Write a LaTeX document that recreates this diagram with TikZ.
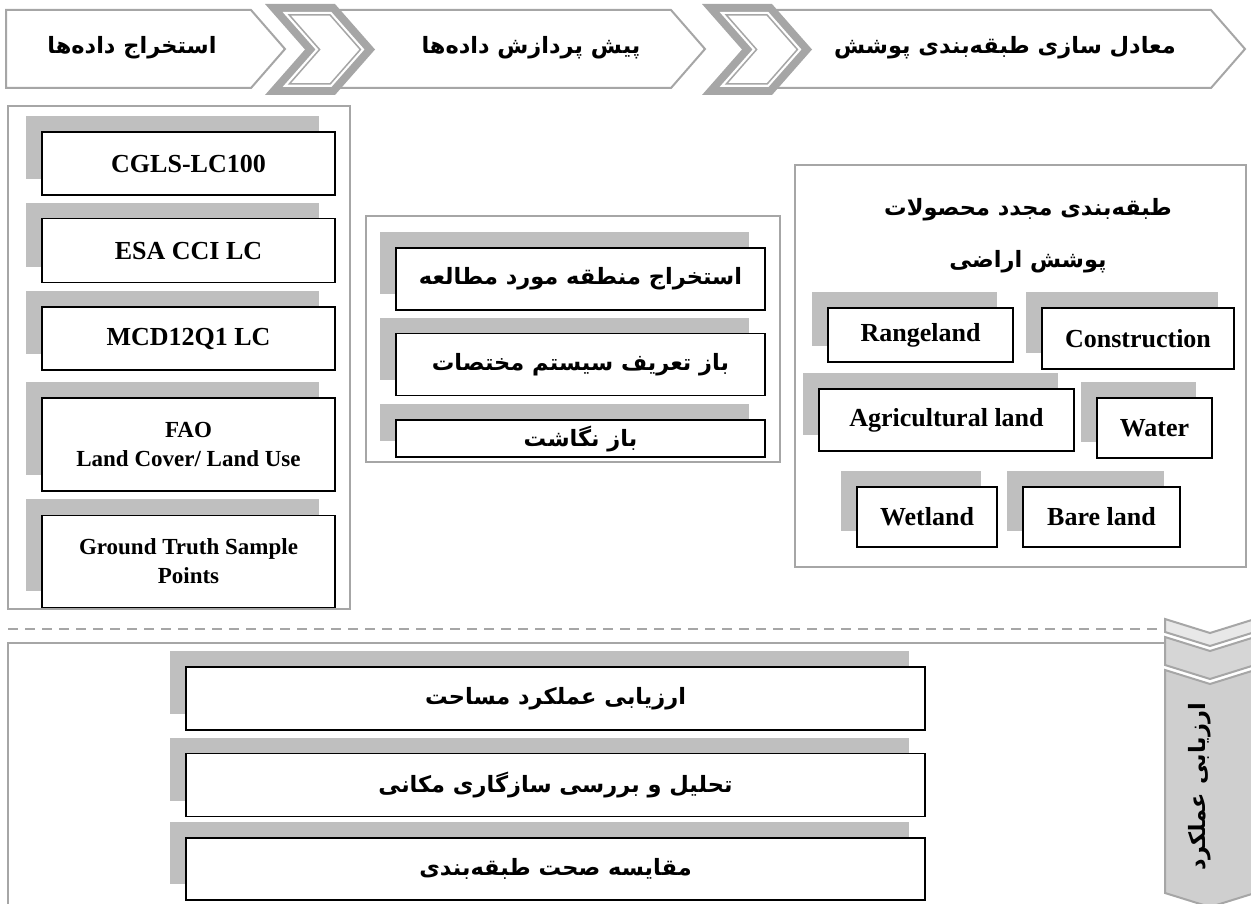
\documentclass[tikz,border=0pt]{standalone}
\usepackage{fontspec}
\setmainfont{Liberation Serif}
\newfontfamily\fafont[Script=Arabic]{DejaVu Sans}
\TeXXeTstate=1
\usepackage{xcolor}
\usepackage{tikz}
\usetikzlibrary{positioning,shadows}
\definecolor{linegray}{HTML}{A6A6A6}
\definecolor{shadowgray}{HTML}{BFBFBF}

\begin{document}
\begin{tikzpicture}[x=1pt, y=-1pt,
every node/.style = {inner sep=0pt,
	align=center,
	font=\bfseries\fontsize{26}{30}\selectfont
	},
panel/.style = {draw=linegray, line width=2.2pt},
stage/.style = {draw=linegray, line width=2pt, fill=white},
sbox/.style = {draw=black, line width=1.6pt, fill=white,
	general shadow={fill=shadowgray, shadow xshift=-16pt, shadow yshift=16pt}},
ftext/.style = {font=\fafont\bfseries\fontsize{22.5}{26}\selectfont},
small/.style = {font=\bfseries\fontsize{23}{29}\selectfont}
]
\useasboundingbox (0,0) rectangle (1251,904);
% stages
\draw[stage] (6,10) -- (251,10) -- (285,49) -- (251,88) -- (6,88) -- cycle;
\draw[stage] (330,10) -- (671,10) -- (705,49) -- (671,88) -- (330,88) -- cycle;
\draw[stage] (770,10) -- (1211,10) -- (1245,49) -- (1211,88) -- (770,88) -- cycle;
\node[ftext] (h1) at (132,48) {\beginR استخراج داده‌ها\endR};
\node[ftext] (h2) at (531,48) {\beginR پیش پردازش داده‌ها\endR};
\node[ftext] (h3) at (1005,48) {\beginR معادل سازی طبقه‌بندی پوشش\endR};
\begin{scope}
	\fill[linegray] (265,4) -- (335,4) -- (375,49.5) -- (335,95) -- (265,95) -- (305,49.5) -- cycle;
	\fill[white] (282.6,12) -- (331.4,12) -- (364.4,49.5) -- (331.4,87) -- (282.6,87) -- (315.6,49.5) -- cycle;
	\draw[linegray, line width=1.5pt] (289.3,15) -- (330.1,15) -- (360.4,49.5) -- (330.1,84) -- (289.3,84) -- (319.6,49.5) -- cycle;
\end{scope}
\begin{scope}[xshift=437pt]
	\fill[linegray] (265,4) -- (335,4) -- (375,49.5) -- (335,95) -- (265,95) -- (305,49.5) -- cycle;
	\fill[white] (282.6,12) -- (331.4,12) -- (364.4,49.5) -- (331.4,87) -- (282.6,87) -- (315.6,49.5) -- cycle;
	\draw[linegray, line width=1.5pt] (289.3,15) -- (330.1,15) -- (360.4,49.5) -- (330.1,84) -- (289.3,84) -- (319.6,49.5) -- cycle;
\end{scope}

% data sources
\draw[panel] (8,106) rectangle (350,609);
\node[sbox, minimum width=293pt, minimum height=63pt] (cgls) at (188.5,163.5) {CGLS-LC100};
\node[sbox, minimum width=293pt, minimum height=64pt, below=22pt of cgls] (esa) {ESA CCI LC};
\node[sbox, minimum width=293pt, minimum height=63pt, below=23pt of esa] (mcd) {MCD12Q1 LC};
\node[sbox, small, minimum width=293pt, minimum height=93pt, below=26pt of mcd] (fao)
	{FAO\\ Land Cover/ Land Use};
\node[sbox, small, minimum width=293pt, minimum height=92pt, below=23pt of fao] (gt)
	{Ground Truth Sample\\ Points};

% preprocessing
\draw[panel] (366,216) rectangle (780,462);
\node[sbox, ftext, minimum width=369pt, minimum height=62pt] (clip) at (580.5,279)
	{\beginR استخراج منطقه مورد مطالعه\endR};
\node[sbox, ftext, minimum width=369pt, minimum height=62pt, below=22pt of clip] (proj)
	{\beginR باز تعریف سیستم مختصات\endR};
\node[sbox, ftext, minimum width=369pt, minimum height=37pt, below=23pt of proj] (remap)
	{\beginR باز نگاشت\endR};

% reclassification
\draw[panel] (795,165) rectangle (1246,567);
\node[ftext] (rtitle) at (1028,236)
	{\beginR طبقه‌بندی مجدد محصولات\endR\\[26pt]\beginR پوشش اراضی\endR};
\node[sbox, minimum width=185pt, minimum height=54pt] (rng) at (920.5,335) {Rangeland};
\node[sbox, minimum width=192pt, minimum height=61pt] (con) at (1138,338.5) {Construction};
\node[sbox, minimum width=255pt, minimum height=62pt] (agr) at (946.5,420) {Agricultural land};
\node[sbox, minimum width=115pt, minimum height=60pt] (wat) at (1154.5,428) {Water};
\node[sbox, minimum width=140pt, minimum height=60pt] (wet) at (927,517) {Wetland};
\node[sbox, minimum width=157pt, minimum height=60pt] (bare) at (1101.5,517) {Bare land};

% evaluation
\draw[linegray, line width=2pt, dash pattern=on 10pt off 7pt] (8,629) -- (1158,629);
\draw[panel] (1165,643) -- (8,643) -- (8,907) -- (1165,907);
\node[sbox, ftext, minimum width=739pt, minimum height=63pt] (area) at (555.5,698.5)
	{\beginR ارزیابی عملکرد مساحت\endR};
\node[sbox, ftext, minimum width=739pt, minimum height=63pt, below=22pt of area] (spat)
	{\beginR تحلیل و بررسی سازگاری مکانی\endR};
\node[sbox, ftext, minimum width=739pt, minimum height=62pt, below=20pt of spat] (acc)
	{\beginR مقایسه صحت طبقه‌بندی\endR};
\draw[linegray, line width=2pt, fill=gray!18] (1165,619) -- (1210,633) -- (1255,619) -- (1255,632) -- (1210,646) -- (1165,632) -- cycle;
\draw[linegray, line width=2pt, fill=gray!32] (1165,637) -- (1210,651) -- (1255,637) -- (1255,665) -- (1210,679) -- (1165,665) -- cycle;
\draw[linegray, line width=2pt, fill=gray!38] (1165,670) -- (1210,684) -- (1255,670) -- (1255,893) -- (1210,907) -- (1165,893) -- cycle;
\node[ftext, rotate=90] (eval) at (1200,787) {\beginR ارزیابی عملکرد\endR};
\end{tikzpicture}
\end{document}
